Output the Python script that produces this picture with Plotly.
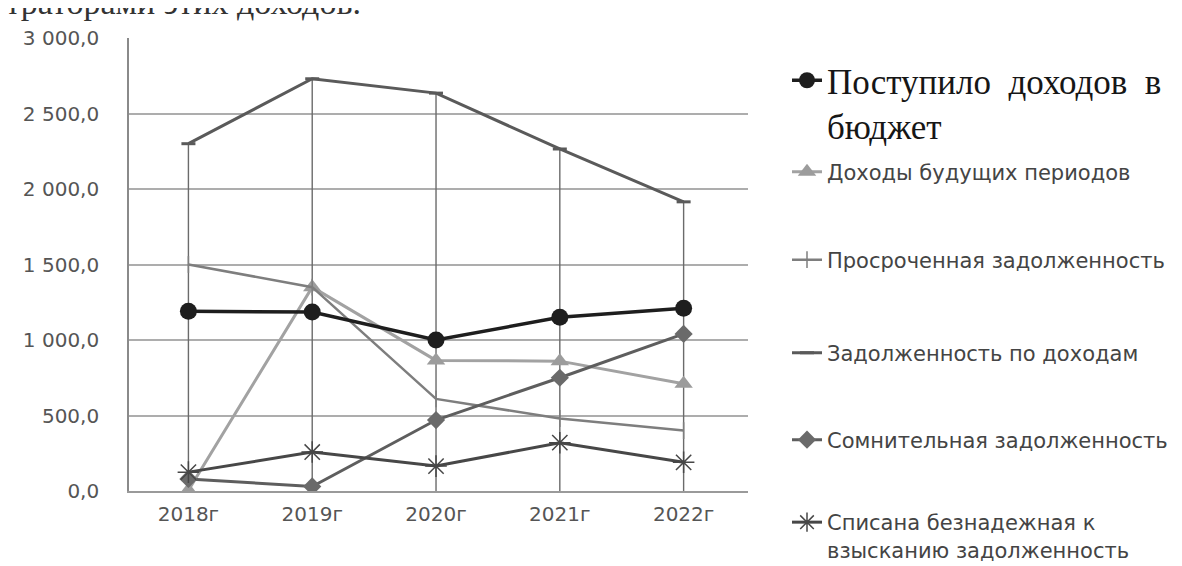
import plotly.graph_objects as go

years = ["2018г", "2019г", "2020г", "2021г", "2022г"]

postupilo = [1190, 1185, 1000, 1150, 1210]
budushchih = [5, 1350, 865, 860, 710]
prosrochennaya = [1500, 1350, 610, 480, 400]
po_dohodam = [2300, 2730, 2635, 2265, 1915]
somnitelnaya = [80, 30, 470, 750, 1040]
spisana = [125, 258, 165, 320, 190]

ytick_vals = [0, 500, 1000, 1500, 2000, 2500, 3000]
ytick_text = ["0,0", "500,0", "1 000,0", "1 500,0", "2 000,0", "2 500,0", "3 000,0"]

names = [
    "Поступило\u00a0\u00a0доходов\u00a0\u00a0в<br>бюджет",
    "Доходы будущих периодов",
    "Просроченная задолженность",
    "Задолженность по доходам",
    "Сомнительная задолженность",
    "Списана безнадежная к<br>взысканию задолженность",
]

W, H = 1182, 566
L, R, T, B = 121, 740, 30, 483
pw, ph = R - L, B - T

def px_x(x):
    return (x - L) / pw

def px_y(y):
    return (B - y) / ph

fig = go.Figure()

# drop lines from the highest point of each year to the axis
all_series = [postupilo, budushchih, prosrochennaya, po_dohodam, somnitelnaya, spisana]
dx, dy = [], []
for i, yr in enumerate(years):
    top = max(s[i] for s in all_series)
    dx += [yr, yr, None]
    dy += [0, top, None]
fig.add_trace(go.Scatter(x=dx, y=dy, mode="lines", line=dict(color="#6b6b6b", width=1.4),
                         showlegend=False, hoverinfo="skip"))

fig.add_trace(go.Scatter(x=years, y=budushchih, name=names[1], mode="lines+markers",
                         line=dict(color="#a2a2a2", width=3),
                         marker=dict(symbol="triangle-up", size=16, color="#9c9c9c"),
                         legend="legend2"))
fig.add_trace(go.Scatter(x=years, y=prosrochennaya, name=names[2], mode="lines+markers",
                         line=dict(color="#7e7e7e", width=2.5),
                         marker=dict(symbol="line-ns", size=12, line=dict(color="#7e7e7e", width=1.5)),
                         legend="legend3"))
fig.add_trace(go.Scatter(x=years, y=po_dohodam, name=names[3], mode="lines+markers",
                         line=dict(color="#5a5a5a", width=3),
                         marker=dict(symbol="line-ew", size=10, line=dict(color="#5a5a5a", width=3)),
                         legend="legend4"))
fig.add_trace(go.Scatter(x=years, y=somnitelnaya, name=names[4], mode="lines+markers",
                         line=dict(color="#5e5e5e", width=3),
                         marker=dict(symbol="diamond", size=14, color="#6a6a6a"),
                         legend="legend5"))
fig.add_trace(go.Scatter(x=years, y=spisana, name=names[5], mode="lines+markers",
                         line=dict(color="#474747", width=3),
                         marker=dict(symbol="asterisk-open", size=18, line=dict(color="#474747", width=1.5)),
                         legend="legend6"))
fig.add_trace(go.Scatter(x=years, y=postupilo, name=names[0], mode="lines+markers",
                         line=dict(color="#1e1e1e", width=3.5),
                         marker=dict(symbol="circle", size=17, color="#1e1e1e"),
                         legend="legend"))

small_font = dict(family="DejaVu Sans", size=21, color="#444444")
leg_x = px_x(779)

def legend_cfg(yc, font, valign="middle"):
    return dict(x=leg_x, y=px_y(yc), xanchor="left", yanchor="middle", xref="paper", yref="paper",
                bgcolor="rgba(0,0,0,0)", borderwidth=0, font=font, valign=valign)

fig.update_layout(
    width=W, height=H,
    margin=dict(l=L, r=W - R, t=T, b=H - B, autoexpand=False),
    paper_bgcolor="white", plot_bgcolor="white",
    legend=legend_cfg(95, dict(family="Liberation Serif", size=35, color="#161616"), "top"),
    legend2=legend_cfg(164, small_font),
    legend3=legend_cfg(252, small_font),
    legend4=legend_cfg(345, small_font),
    legend5=legend_cfg(432, small_font),
    legend6=legend_cfg(528, small_font, "top"),
    xaxis=dict(type="category", categoryorder="array", categoryarray=years,
               range=[-0.48, 4.52], showgrid=False, showline=True, linecolor="#9a9a9a", linewidth=2,
               ticks="", ticklabelstandoff=4, zeroline=False,
               tickfont=dict(family="DejaVu Sans", size=20, color="#555555")),
    yaxis=dict(range=[0, 3000], tickvals=ytick_vals, ticktext=ytick_text,
               showgrid=True, gridcolor="#adadad", gridwidth=1.6,
               showline=True, linecolor="#8a8a8a", linewidth=1.6, zeroline=False,
               ticks="", ticklabelstandoff=24,
               tickfont=dict(family="DejaVu Sans", size=20, color="#555555")),
    annotations=[dict(text="администраторами этих доходов.", xref="paper", yref="paper",
                      x=px_x(355), y=px_y(-6), xanchor="right", yanchor="middle",
                      showarrow=False,
                      font=dict(family="Liberation Serif", size=34, color="#333333"))],
)

fig.write_html("out.html")
